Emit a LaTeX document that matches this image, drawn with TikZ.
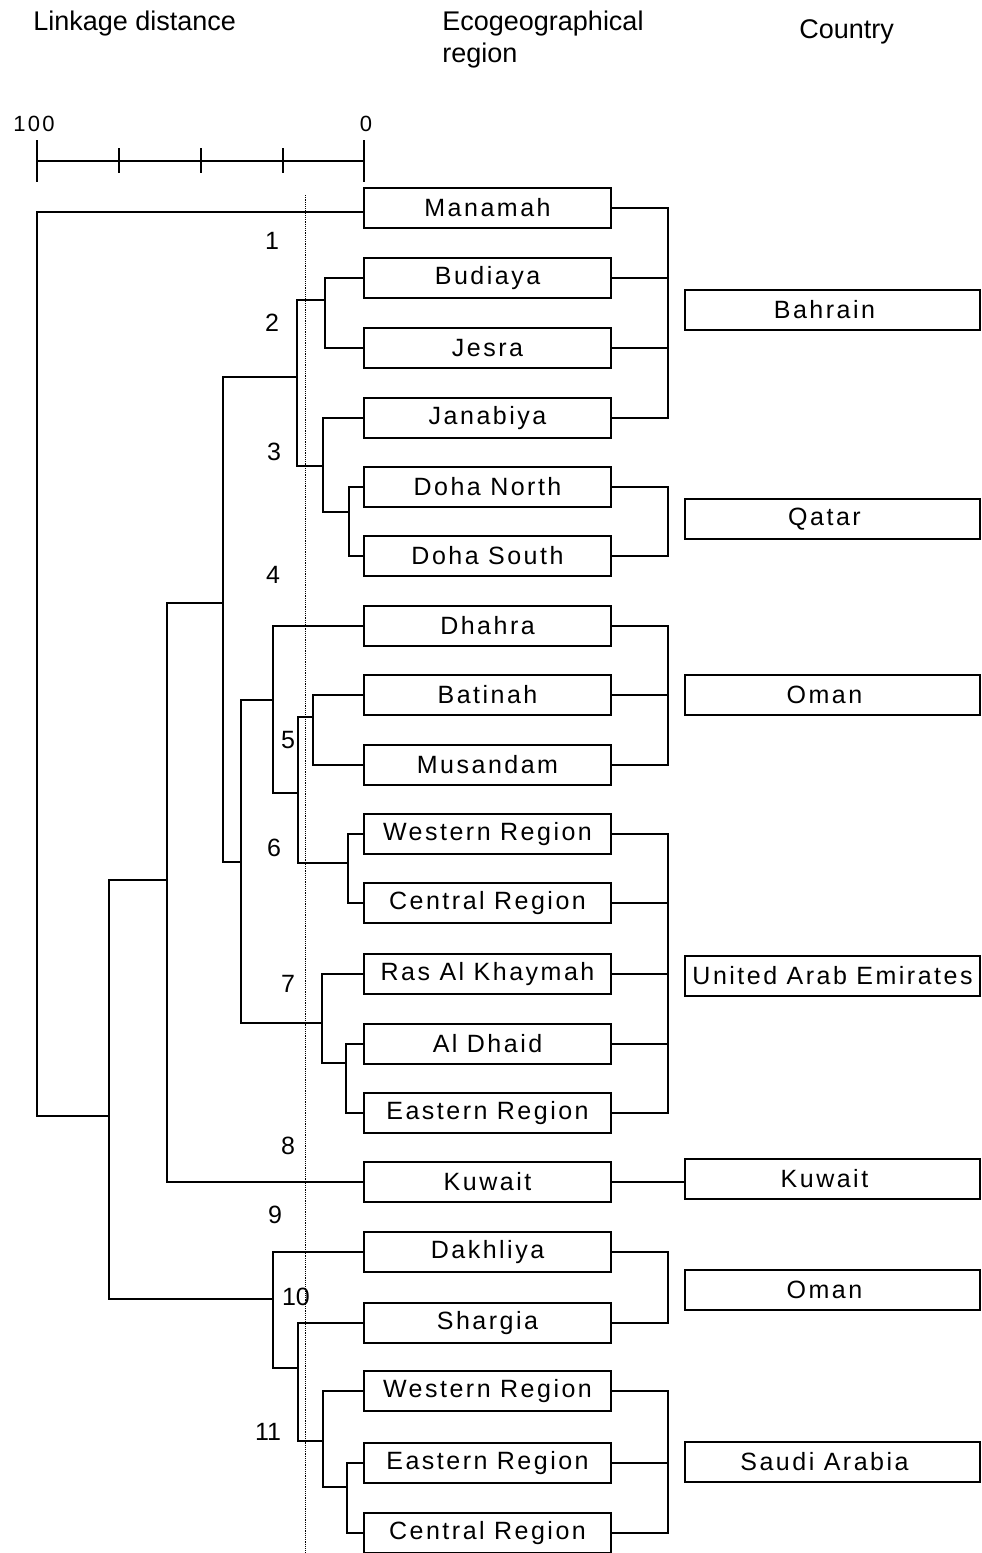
\documentclass[tikz,border=0pt]{standalone}
\usepackage{fontspec}
\setmainfont{Liberation Sans}
\newfontfamily\trackfont[LetterSpace=10]{Liberation Sans}
\begin{document}
\begin{tikzpicture}[x=0.5pt,y=-0.5pt,
  reg/.style={draw,line width=0.9pt,minimum width=123.5pt,minimum height=20pt,inner sep=0pt,font=\trackfont\fontsize{12.5}{15}\selectfont},
  ctry/.style={draw,line width=0.9pt,minimum width=147.5pt,minimum height=20pt,inner sep=0pt,font=\trackfont\fontsize{12.5}{15}\selectfont},
  link/.style={line width=0.85pt},
  num/.style={font=\fontsize{12.5}{15}\selectfont,inner sep=0pt},
  hdr/.style={font=\fontsize{13.5}{16}\selectfont,anchor=west,inner sep=0pt},
  axlab/.style={font=\trackfont\fontsize{11}{13}\selectfont,inner sep=0pt},
  cutline/.style={line width=0.5pt,dash pattern=on 0.6pt off 0.5pt}
]
\useasboundingbox (0,0) rectangle (981,1553);

% headers
\node[hdr] (h1) at (33,24) {Linkage distance};
\node[hdr] (h2) at (442,24) {Ecogeographical};
\node[hdr] (h3) at (442,56) {region};
\node[hdr] (h4) at (799,32) {Country};

% axis
\node[axlab] (a100) at (34,124) {100};
\node[axlab] (a0) at (366,124) {0};
\coordinate (ax0) at (37,161);
\coordinate (ax1) at (364,161);
\draw[link] (ax0) -- (ax1);
\draw[link] (37,140) -- (37,182);
\draw[link] (364,140) -- (364,182);
\draw[link] (119,148) -- (119,173);
\draw[link] (201,148) -- (201,173);
\draw[link] (283,148) -- (283,173);

% cut line
\coordinate (cutT) at (305,195);
\coordinate (cutB) at (305,1553);
\draw[cutline] (cutT) -- (cutB);

% region boxes
\node[reg] (Manamah) at (487.5,208) {Manamah};
\node[reg] (Budiaya) at (487.5,278) {Budiaya};
\node[reg] (Jesra) at (487.5,348) {Jesra};
\node[reg] (Janabiya) at (487.5,418) {Janabiya};
\node[reg] (DohaN) at (487.5,487) {Doha North};
\node[reg] (DohaS) at (487.5,556) {Doha South};
\node[reg] (Dhahra) at (487.5,626) {Dhahra};
\node[reg] (Batinah) at (487.5,695) {Batinah};
\node[reg] (Musandam) at (487.5,765) {Musandam};
\node[reg] (WestU) at (487.5,834) {Western Region};
\node[reg] (CentU) at (487.5,903) {Central Region};
\node[reg] (Ras) at (487.5,974) {Ras Al Khaymah};
\node[reg] (Dhaid) at (487.5,1044) {Al Dhaid};
\node[reg] (EastU) at (487.5,1113) {Eastern Region};
\node[reg] (KuwR) at (487.5,1182) {Kuwait};
\node[reg] (Dakh) at (487.5,1252) {Dakhliya};
\node[reg] (Sharg) at (487.5,1323) {Shargia};
\node[reg] (WestS) at (487.5,1391) {Western Region};
\node[reg] (EastS) at (487.5,1463) {Eastern Region};
\node[reg] (CentS) at (487.5,1533) {Central Region};

% country boxes
\node[ctry] (Bahrain) at (832.5,310) {\kern-8pt Bahrain};
\node[ctry] (Qatar) at (832.5,519) {\kern-8pt Qatar};
\node[ctry] (Oman1) at (832.5,695) {\kern-8pt Oman};
\node[ctry] (UAE) at (832.5,976) {United Arab Emirates};
\node[ctry] (Kuwait) at (832.5,1179) {\kern-8pt Kuwait};
\node[ctry] (Oman2) at (832.5,1290) {\kern-8pt Oman};
\node[ctry] (Saudi) at (832.5,1462) {\kern-8pt Saudi Arabia};

% right brackets
\coordinate (rb) at (668,0);
\draw[link] (Manamah.east) -- (Manamah.east -| rb) -- (Janabiya.east -| rb) -- (Janabiya.east);
\draw[link] (Budiaya.east) -- (Budiaya.east -| rb);
\draw[link] (Jesra.east) -- (Jesra.east -| rb);
\draw[link] (DohaN.east) -- (DohaN.east -| rb) -- (DohaS.east -| rb) -- (DohaS.east);
\draw[link] (Dhahra.east) -- (Dhahra.east -| rb) -- (Musandam.east -| rb) -- (Musandam.east);
\draw[link] (Batinah.east) -- (Batinah.east -| rb);
\draw[link] (WestU.east) -- (WestU.east -| rb) -- (EastU.east -| rb) -- (EastU.east);
\draw[link] (CentU.east) -- (CentU.east -| rb);
\draw[link] (Ras.east) -- (Ras.east -| rb);
\draw[link] (Dhaid.east) -- (Dhaid.east -| rb);
\draw[link] (KuwR.east) -- (KuwR.east -| Kuwait.west);
\draw[link] (Dakh.east) -- (Dakh.east -| rb) -- (Sharg.east -| rb) -- (Sharg.east);
\draw[link] (WestS.east) -- (WestS.east -| rb) -- (CentS.east -| rb) -- (CentS.east);
\draw[link] (EastS.east) -- (EastS.east -| rb);

% dendrogram junctions (x of vertical, y of stem)
\coordinate (A) at (325,300);
\coordinate (B) at (349,512);
\coordinate (C) at (323,466);
\coordinate (D) at (297,377);
\coordinate (E) at (313,717);
\coordinate (F) at (348,863);
\coordinate (G) at (298,793);
\coordinate (H) at (273,700);
\coordinate (I) at (346,1063);
\coordinate (J) at (322,1023);
\coordinate (K) at (241,862);
\coordinate (L) at (223,603);
\coordinate (M) at (167,880);
\coordinate (N) at (347,1487);
\coordinate (O) at (323,1441);
\coordinate (P) at (298,1368);
\coordinate (Q) at (273,1299);
\coordinate (R) at (109,1116);
\coordinate (Root) at (37,212);

\draw[link] (Budiaya.west) -- (Budiaya.west -| A) -- (Jesra.west -| A) -- (Jesra.west);
\draw[link] (DohaN.west) -- (DohaN.west -| B) -- (DohaS.west -| B) -- (DohaS.west);
\draw[link] (Janabiya.west) -- (Janabiya.west -| C) -- (B -| C) -- (B);
\draw[link] (A) -- (A -| D) -- (C -| D) -- (C);
\draw[link] (Batinah.west) -- (Batinah.west -| E) -- (Musandam.west -| E) -- (Musandam.west);
\draw[link] (WestU.west) -- (WestU.west -| F) -- (CentU.west -| F) -- (CentU.west);
\draw[link] (E) -- (E -| G) -- (F -| G) -- (F);
\draw[link] (Dhahra.west) -- (Dhahra.west -| H) -- (G -| H) -- (G);
\draw[link] (Dhaid.west) -- (Dhaid.west -| I) -- (EastU.west -| I) -- (EastU.west);
\draw[link] (Ras.west) -- (Ras.west -| J) -- (I -| J) -- (I);
\draw[link] (H) -- (H -| K) -- (J -| K) -- (J);
\draw[link] (D) -- (D -| L) -- (K -| L) -- (K);
\draw[link] (L) -- (L -| M) -- (KuwR.west -| M) -- (KuwR.west);
\draw[link] (EastS.west) -- (EastS.west -| N) -- (CentS.west -| N) -- (CentS.west);
\draw[link] (WestS.west) -- (WestS.west -| O) -- (N -| O) -- (N);
\draw[link] (Sharg.west) -- (Sharg.west -| P) -- (O -| P) -- (O);
\draw[link] (Dakh.west) -- (Dakh.west -| Q) -- (P -| Q) -- (P);
\draw[link] (M) -- (M -| R) -- (Q -| R) -- (Q);
\draw[link] (Manamah.west |- Root) -- (Root) -- (R -| Root) -- (R);

% cluster numbers
\node[num] (n1) at (272,241) {1};
\node[num] (n2) at (272,323) {2};
\node[num] (n3) at (274,452) {3};
\node[num] (n4) at (273,575) {4};
\node[num] (n5) at (288,740) {5};
\node[num] (n6) at (274,848) {6};
\node[num] (n7) at (288,984) {7};
\node[num] (n8) at (288,1146) {8};
\node[num] (n9) at (275,1215) {9};
\node[num] (n10) at (296,1297) {10};
\node[num] (n11) at (268,1432) {11};
\end{tikzpicture}
\end{document}
